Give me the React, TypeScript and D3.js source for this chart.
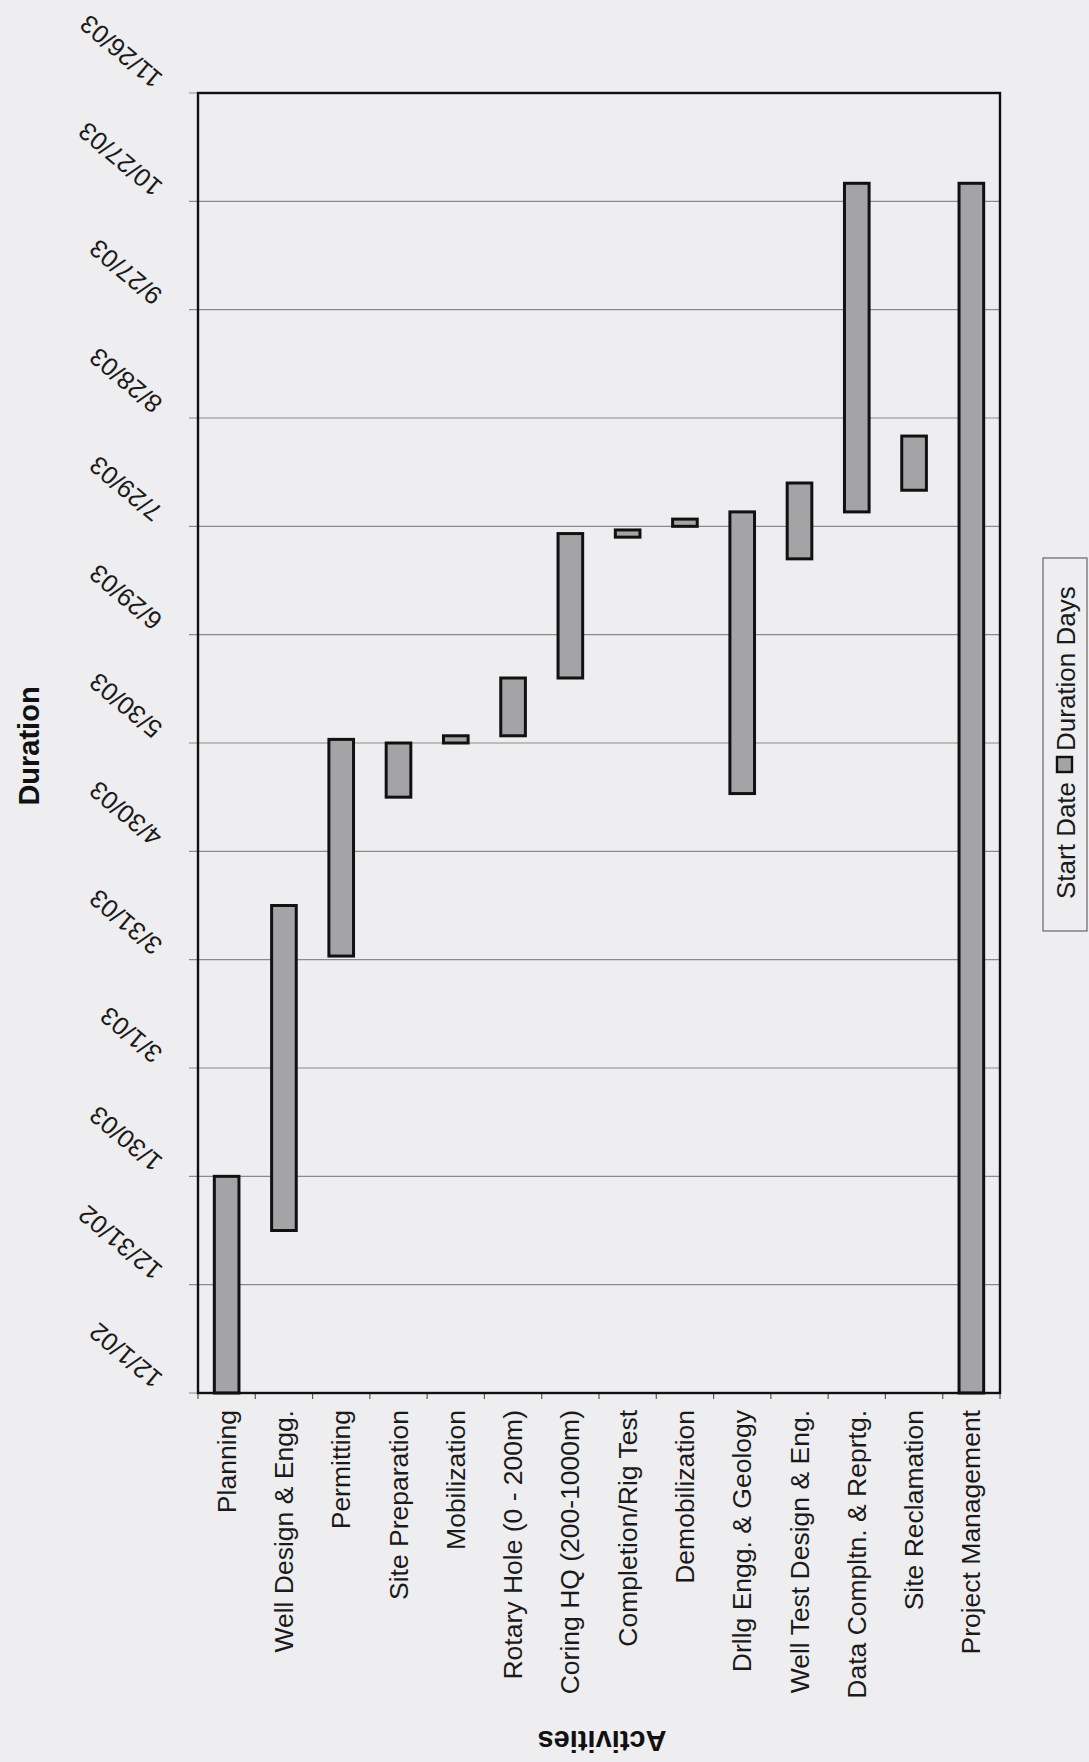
import React from "react";
import * as d3 from "d3";

const categories = [
  "Planning",
  "Well Design & Engg.",
  "Permitting",
  "Site Preparation",
  "Mobilization",
  "Rotary Hole (0 - 200m)",
  "Coring HQ (200-1000m)",
  "Completion/Rig Test",
  "Demobilization",
  "Drllg Engg. & Geology",
  "Well Test Design & Eng.",
  "Data Compltn. & Reprtg.",
  "Site Reclamation",
  "Project Management",
];

// days after 12/1/02
const startDays = [0, 45, 121, 165, 180, 182, 198, 237, 240, 166, 231, 244, 250, 0];
const durationDays = [60, 90, 60, 15, 2, 16, 40, 2, 2, 78, 21, 91, 15, 335];

const tickDays = [0, 30, 60, 90, 120, 150, 180, 210, 240, 270, 300, 330, 360];
const tickLabels = [
  "12/1/02", "12/31/02", "1/30/03", "3/1/03", "3/31/03", "4/30/03", "5/30/03",
  "6/29/03", "7/29/03", "8/28/03", "9/27/03", "10/27/03", "11/26/03",
];

const W = 1089;
const H = 1762;
const L = 198, R = 1000, T = 93, B = 1393;
const FONT = "'Liberation Sans', Arial, Helvetica, sans-serif";
const BG = "#eeeef1";

export default function App() {
  const y = d3.scaleLinear().domain([0, 360]).range([B, T]);
  const x = d3.scaleBand<string>().domain(categories).range([L, R]).padding(0);
  const bw = x.bandwidth() * 0.43;

  return (
    <div style={{ position: "absolute", left: 0, top: 0, width: W, height: H, background: BG }}>
      <svg width={W} height={H} style={{ display: "block" }}>
        <rect x={0} y={0} width={W} height={H} fill={BG} />
        {/* gridlines + outer ticks */}
        {tickDays.map((d, i) => (
          <line key={"g" + i} x1={L - 9} x2={R} y1={y(d)} y2={y(d)} stroke="#8a8a8a" strokeWidth={1.2} />
        ))}
        {/* category ticks */}
        {categories.map((c, i) => (
          <line key={"ct" + i} x1={x(c)!} x2={x(c)!} y1={B} y2={B + 6} stroke="#555" strokeWidth={1.2} />
        ))}
        <line x1={R} x2={R} y1={B} y2={B + 6} stroke="#555" strokeWidth={1.2} />
        {/* bars */}
        {categories.map((c, i) => {
          const cx = x(c)! + x.bandwidth() / 2;
          const y0 = y(startDays[i]);
          const y1 = y(startDays[i] + durationDays[i]);
          return (
            <g key={"b" + i}>
              <rect x={cx - bw / 2} y={y1} width={bw} height={y0 - y1} fill="#a4a4a6" stroke="#111" strokeWidth={3} />
            </g>
          );
        })}
        {/* plot frame */}
        <rect x={L} y={T} width={R - L} height={B - T} fill="none" stroke="#111" strokeWidth={2.4} />
        {/* date tick labels */}
        {tickDays.map((d, i) => (
          <text
            key={"tl" + i}
            transform={`translate(164,${y(d) - 17}) rotate(220)`}
            fontFamily={FONT}
            fontSize={25.5}
            fill="#1a1a1a"
            textAnchor="start"
          >
            {tickLabels[i]}
          </text>
        ))}
        {/* category labels */}
        {categories.map((c, i) => (
          <text
            key={"cl" + i}
            transform={`translate(${x(c)! + x.bandwidth() / 2 + 9},1410) rotate(-90)`}
            fontFamily={FONT}
            fontSize={26.5}
            fill="#1a1a1a"
            textAnchor="end"
          >
            {c}
          </text>
        ))}
        {/* axis titles */}
        <text transform="translate(39,746) rotate(-90)" fontFamily={FONT} fontSize={29} fontWeight="bold" fill="#111" textAnchor="middle">
          Duration
        </text>
        <text transform={`translate(${(L + R) / 2 + 3},1731) rotate(180)`} fontFamily={FONT} fontSize={29} fontWeight="bold" fill="#111" textAnchor="middle">
          Activities
        </text>
        {/* legend */}
        <rect x={1043} y={558} width={44} height={373} fill="none" stroke="#666" strokeWidth={1.2} />
        <text transform="translate(1075,899) rotate(-90)" fontFamily={FONT} fontSize={26} fill="#1a1a1a" textAnchor="start">
          Start Date
        </text>
        <rect x={1057} y={757} width={15} height={15} fill="#a4a4a6" stroke="#111" strokeWidth={2.4} />
        <text transform="translate(1075,751) rotate(-90)" fontFamily={FONT} fontSize={26} fill="#1a1a1a" textAnchor="start">
          Duration Days
        </text>
      </svg>
    </div>
  );
}
